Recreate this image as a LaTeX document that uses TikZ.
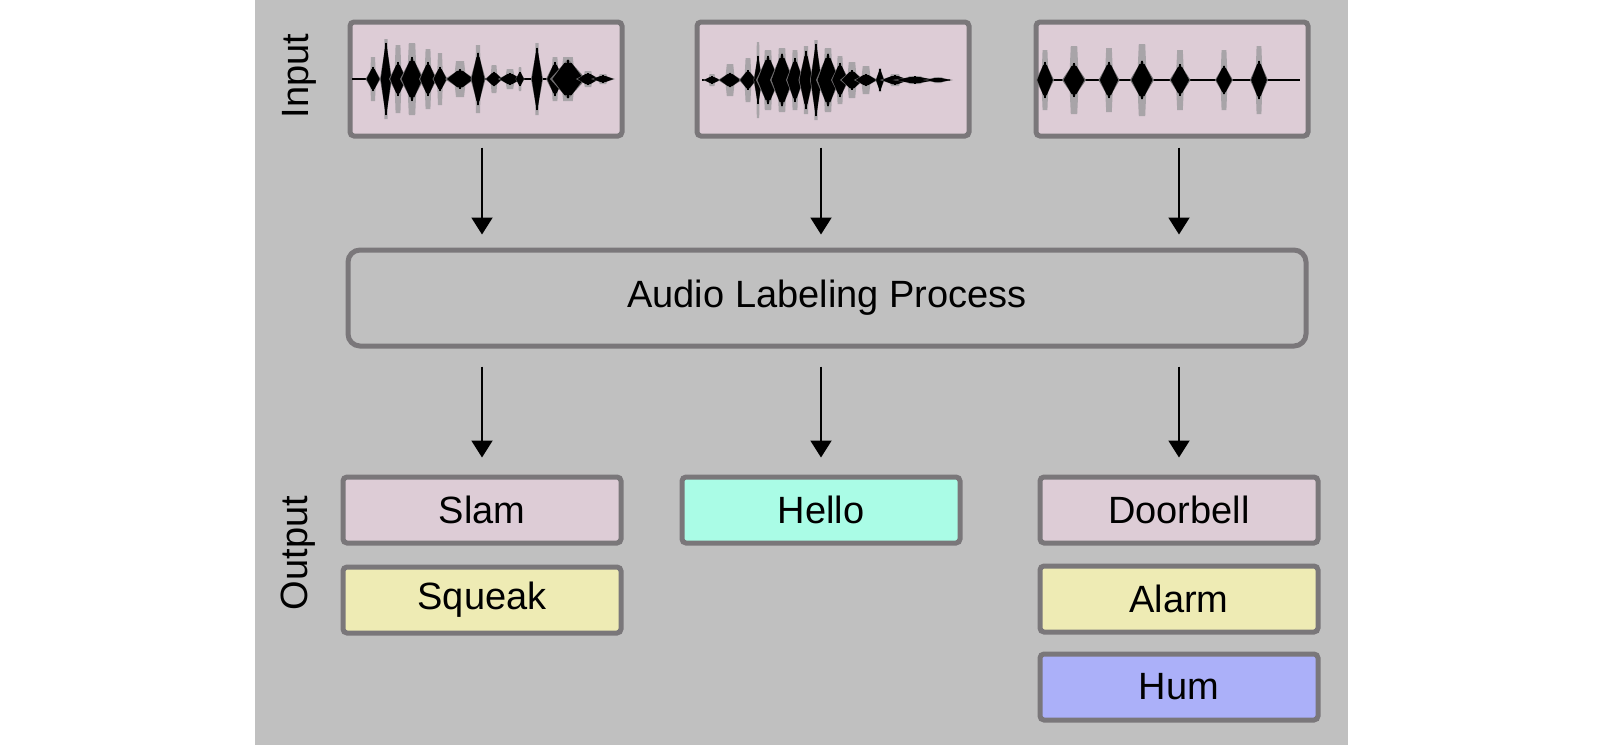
\documentclass[tikz,border=0pt]{standalone}
\usepackage{fontspec}
\setmainfont{Liberation Sans}
\usetikzlibrary{positioning,arrows.meta,calc}
\definecolor{BgGray}{HTML}{C0C0C0}
\definecolor{EdgeGray}{HTML}{7A777A}
\definecolor{PinkFill}{HTML}{DDCCD6}
\definecolor{YellowFill}{HTML}{EEEBB4}
\definecolor{MintFill}{HTML}{AAFCE6}
\definecolor{BlueFill}{HTML}{ABB0F9}
\definecolor{HaloGray}{HTML}{A8A4A8}
\definecolor{MidGray}{HTML}{6E6C6E}

\begin{document}
\begin{tikzpicture}[x=0.5pt,y=-0.5pt,
  wave/.style={draw=EdgeGray, line width=2.5pt, fill=PinkFill, rounded corners=2pt, minimum width=136pt, minimum height=57pt, inner sep=0pt},
  tag/.style={draw=EdgeGray, line width=2.5pt, rounded corners=2pt, minimum width=139pt, minimum height=33pt, inner sep=0pt, font=\fontsize{19}{23}\selectfont},
  proc/.style={draw=EdgeGray, line width=2.5pt, rounded corners=6pt, minimum width=479pt, minimum height=48pt, font=\fontsize{19}{23}\selectfont},
  side/.style={rotate=90, inner sep=0pt, font=\fontsize{19}{23}\selectfont},
  flow/.style={-{Triangle[length=8.5pt,width=10.5pt]}, line width=1pt}]
\useasboundingbox (0,0) rectangle (1603,745);
\fill[BgGray] (255,0) rectangle (1348,745);

% input
\node[side] (inlab) at (299,76) {Input};
\node[wave] (wav1) at (486,79) {};
\node[wave] (wav2) at (833,79) {};
\node[wave] (wav3) at (1172,79) {};

% waveforms
\foreach \cy/\xa/\xb in {79/352/612, 80/702/950, 80/1040/1300}
  \draw[black, line width=1pt] (\xa,\cy) -- (\xb,\cy);
\foreach \cy/\list in {79/{373/5/10/22, 386/4/30/40, 398/6/14/34, 412/8/18/36, 428/6/14/30, 440/5/10/26, 460/10/8/18, 478/5/22/34, 494/6/6/14, 510/8/5/10, 520/3/6/12, 537/4/26/36, 555/6/14/22, 568/12/16/22, 588/8/5/8, 603/8/3/5},
    80/{712/6/3/6, 730/8/6/16, 748/6/8/22, 758/3/20/38, 768/8/20/30, 782/8/22/32, 795/6/18/30, 806/5/24/34, 816/4/30/40, 828/8/22/32, 840/6/14/24, 852/8/8/18, 866/8/5/14, 880/3/9/12, 895/10/4/6, 915/15/3/4, 938/10/2/3},
    80/{1045/6/15/30, 1074/8/14/34, 1109/7/15/32, 1142/8/16/36, 1180/7/13/30, 1224/6/12/30, 1259/6/16/34}}{
  \foreach \x/\w/\h/\g in \list{
    \fill[HaloGray] ({\x-\w*0.6},\cy) -- ({\x-\w*0.4},{\cy-\g}) -- ({\x+\w*0.4},{\cy-\g}) -- ({\x+\w*0.6},\cy) -- ({\x+\w*0.4},{\cy+\g}) -- ({\x-\w*0.4},{\cy+\g}) -- cycle;
    \fill[MidGray] ({\x-\w*1.5},\cy) -- (\x,{\cy-\h*1.25}) -- ({\x+\w*1.5},\cy) -- (\x,{\cy+\h*1.25}) -- cycle;
    \fill[black] ({\x-\w*1.3},\cy) -- ({\x-\w*0.3},{\cy-\h}) -- ({\x+\w*0.3},{\cy-\h}) -- ({\x+\w*1.3},\cy) -- ({\x+\w*0.3},{\cy+\h}) -- ({\x-\w*0.3},{\cy+\h}) -- cycle;
    \draw[black, line width=1.2pt] (\x,{\cy-\h*1.2}) -- (\x,{\cy+\h*1.2});
  }
}

% process
\node[proc] (proc) at (827,298) {Audio Labeling Process};

% output
\node[side] (outlab) at (298,553) {Output};
\node[tag, fill=PinkFill]   (slam)     at (482,510)  {Slam};
\node[tag, fill=YellowFill] (squeak)   at (482,600)  {Squeak};
\node[tag, fill=MintFill]   (hello)    at (821,510)  {Hello};
\node[tag, fill=PinkFill]   (doorbell) at (1179,510) {Doorbell};
\node[tag, fill=YellowFill] (alarm)    at (1179,599) {Alarm};
\node[tag, fill=BlueFill]   (hum)      at (1179,687) {Hum};

\foreach \a/\b in {slam/wav1, hello/wav2, doorbell/wav3}{
  \draw[flow, shorten <=4.5pt, shorten >=6.5pt] (\a |- \b.south) -- (\a |- proc.north);
  \draw[flow, shorten <=9pt, shorten >=8.5pt] (\a |- proc.south) -- (\a.north);
}
\end{tikzpicture}
\end{document}
